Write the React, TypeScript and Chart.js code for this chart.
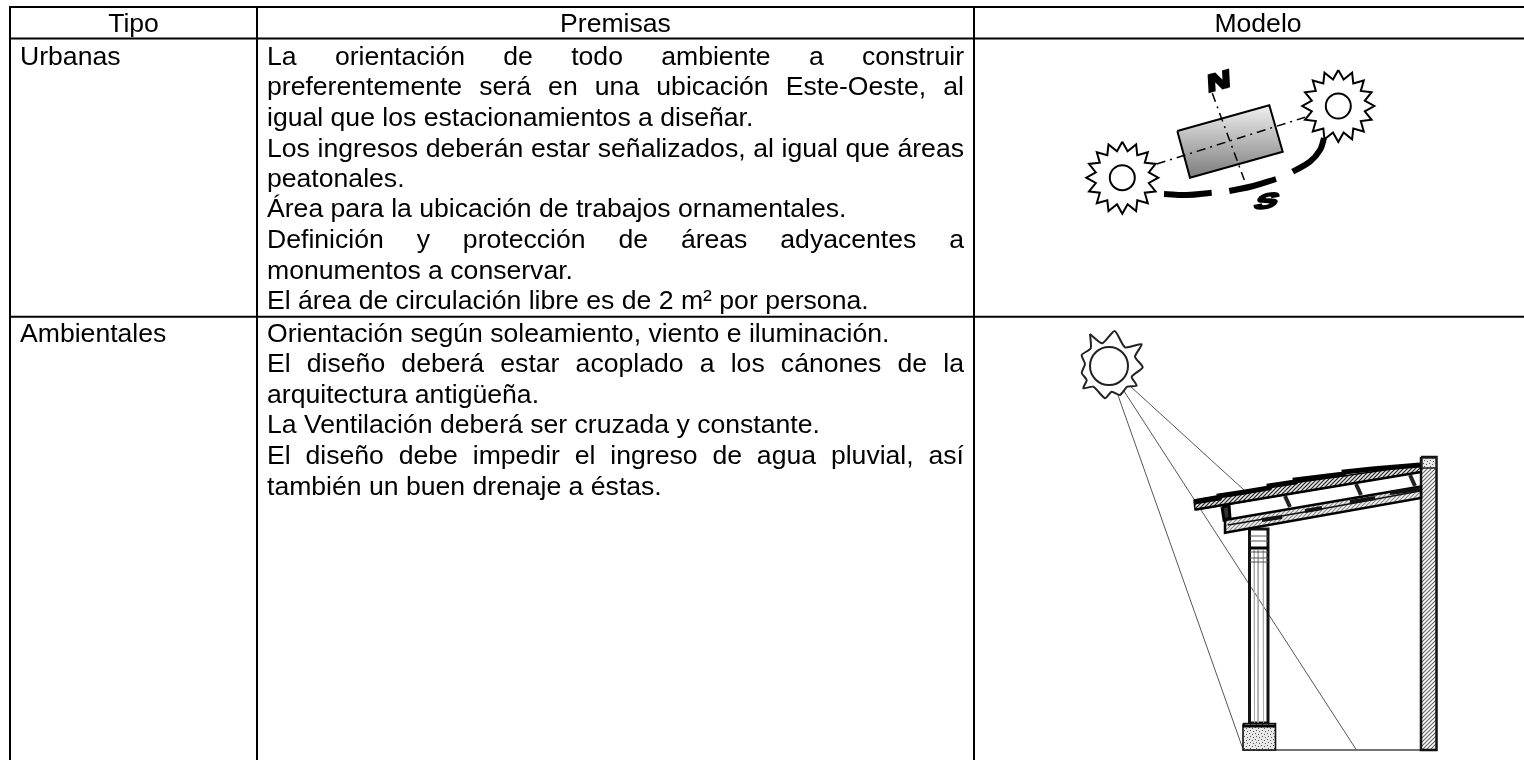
import React, { useEffect, useRef } from "react";
import { Chart, registerables } from "chart.js";

Chart.register(...registerables);

type P = [number, number];

const headerLabels = ["Tipo", "Premisas", "Modelo"];
const typeLabels = ["Urbanas", "Ambientales"];

// text, justified?
const urbanLines: [string, boolean][] = [
  ["La orientación de todo ambiente a construir", true],
  ["preferentemente será en una ubicación Este-Oeste, al", true],
  ["igual que los estacionamientos a diseñar.", false],
  ["Los ingresos deberán estar señalizados, al igual que áreas", true],
  ["peatonales.", false],
  ["Área para la ubicación de trabajos ornamentales.", false],
  ["Definición y protección de áreas adyacentes a", true],
  ["monumentos a conservar.", false],
  ["El área de circulación libre es de 2 m² por persona.", false],
];
const ambientLines: [string, boolean][] = [
  ["Orientación según soleamiento, viento e iluminación.", false],
  ["El diseño deberá estar acoplado a los cánones de la", true],
  ["arquitectura antigüeña.", false],
  ["La Ventilación deberá ser cruzada y constante.", false],
  ["El diseño debe impedir el ingreso de agua pluvial, así", true],
  ["también un buen drenaje a éstas.", false],
];
const urbanBaselines = [65, 95, 126, 157, 187, 217, 248, 279, 309];
const ambientBaselines = [341.5, 372, 402.5, 433, 464, 494.5];

const gridLines: P[][] = [
  [[9, 7], [1524, 7]],
  [[9, 38.5], [1524, 38.5]],
  [[9, 316.7], [1524, 316.7]],
  [[10, 6], [10, 760]],
  [[257, 6], [257, 760]],
  [[974, 6], [974, 760]],
];

const compassBox: P[] = [[1177.3, 131], [1269.3, 105.3], [1282.7, 151.7], [1190, 177.7], [1177.3, 131]];
const axisEW: P[] = [[1156.7, 164], [1305, 117.3]];
const axisNS: P[] = [[1212.3, 93.3], [1244.3, 180]];
const arcA: P[] = [[1164, 194], [1186.7, 195], [1211.7, 192.7]];
const arcB: P[] = [[1229.3, 191], [1253.3, 186], [1276, 179]];
const arcC: P[] = [[1292.7, 171.7], [1310, 161.7], [1320, 150], [1324, 138.3]];
const starOffsets: P[] = [
  [0, -36], [5.3, -26.5], [13.8, -33.3], [15, -22.5], [25.5, -25.5], [22.5, -15], [33.3, -13.8], [26.5, -5.3],
  [36, 0], [26.5, 5.3], [33.3, 13.8], [22.5, 15], [25.5, 25.5], [15, 22.5], [13.8, 33.3], [5.3, 26.5],
  [0, 36], [-5.3, 26.5], [-13.8, 33.3], [-15, 22.5], [-25.5, 25.5], [-22.5, 15], [-33.3, 13.8], [-26.5, 5.3],
  [-36, 0], [-26.5, -5.3], [-33.3, -13.8], [-22.5, -15], [-25.5, -25.5], [-15, -22.5], [-13.8, -33.3], [-5.3, -26.5],
  [0, -36],
];
const sunCentres: P[] = [[1122.3, 177.7], [1338.3, 106]];
const bigSunCentre: P = [1109, 366];
const bigSunOutline: P[] = [
  [1090, 334], [1102.3, 343.3], [1114.7, 331], [1125, 347.3], [1141.7, 344.3], [1135, 356.7], [1142.7, 367.3],
  [1131.7, 376.7], [1136.7, 385.7], [1127.3, 386.7], [1120, 395], [1111.7, 391.7], [1105, 398.3], [1093.3, 386.7],
  [1083.3, 388.3], [1086.7, 380], [1081.7, 373], [1085, 364], [1081.7, 355], [1090.7, 348.3], [1090, 334],
];
const rays: P[][] = [
  [[1130, 386], [1244, 490]],
  [[1123.3, 390], [1356, 749.3]],
  [[1117.3, 393.3], [1242.7, 748.3]],
];
const ground: P[] = [[1242.7, 750], [1422, 750]];
const wall: P[] = [[1421, 457], [1436.5, 457], [1436.5, 750], [1421, 750], [1421, 457]];
const wallCap: P[] = [[1422, 458], [1436, 458], [1436, 468], [1422, 468], [1422, 458]];
const postBody: P[] = [[1249.5, 529], [1268, 529], [1268, 723], [1249.5, 723], [1249.5, 529]];
const postGrain: P[][] = [
  [[1254, 550], [1254.5, 723]],
  [[1258.5, 550], [1258, 723]],
  [[1263, 550], [1263.5, 723]],
];
const postBands: P[][] = [
  [[1250, 536], [1268, 536]],
  [[1250, 541], [1268, 541]],
  [[1250, 552], [1268, 552]],
  [[1250, 558], [1268, 558]],
  [[1250, 562], [1268, 562]],
];
const postDark: P[] = [[1250, 548], [1268, 548]];
const footing: P[] = [[1243, 723.5], [1275.5, 723.5], [1275.5, 750], [1243, 750], [1243, 723.5]];
const footingCap: P[] = [[1243, 726], [1275.5, 726]];
const roofBoard: P[] = [[1194, 500], [1245, 491], [1300, 482], [1350, 475], [1420, 465], [1421, 472], [1195, 510], [1194, 500]];
const roofTop: P[] = [
  [1194, 502], [1219, 498], [1219, 496], [1245, 492], [1269, 488], [1269, 486], [1295, 482], [1295, 480], [1344, 474], [1344, 472], [1372, 469], [1420, 465],
];
const beam: P[] = [[1225, 520], [1421, 486.5], [1421, 498], [1225, 532.7], [1225, 520]];
const beamStreaks: P[][] = [
  [[1228, 525], [1270, 518], [1310, 511], [1360, 502], [1420, 491]],
  [[1262, 520], [1282, 517]],
  [[1305, 511], [1322, 508]],
  [[1350, 502], [1375, 498]],
  [[1390, 493], [1420, 489]],
];
const roofUnder: P[] = [[1196, 509.5], [1421, 472]];
const struts: P[][] = [
  [[1285, 496], [1290, 507]],
  [[1356, 484], [1361, 495]],
  [[1410, 475], [1415, 486]],
];
const cleat: P[] = [[1222, 507], [1229, 505], [1230, 518], [1224, 520], [1222, 507]];

const toXY = (pts: P[]) => pts.map(([x, y]) => ({ x, y }));

function hatch(ctx: CanvasRenderingContext2D, bg: string, fg: string) {
  const c = document.createElement("canvas");
  c.width = 4;
  c.height = 4;
  const g = c.getContext("2d")!;
  g.fillStyle = bg;
  g.fillRect(0, 0, 4, 4);
  g.strokeStyle = fg;
  g.lineWidth = 1.2;
  g.beginPath();
  g.moveTo(-1, 1);
  g.lineTo(1, -1);
  g.moveTo(0, 4);
  g.lineTo(4, 0);
  g.moveTo(3, 5);
  g.lineTo(5, 3);
  g.stroke();
  return ctx.createPattern(c, "repeat")!;
}

function speckle(ctx: CanvasRenderingContext2D) {
  const c = document.createElement("canvas");
  c.width = 6;
  c.height = 6;
  const g = c.getContext("2d")!;
  g.fillStyle = "#e8e8e8";
  g.fillRect(0, 0, 6, 6);
  g.fillStyle = "#555";
  g.fillRect(1, 1, 1, 1);
  g.fillRect(4, 2, 1, 1);
  g.fillRect(2, 4, 1, 1);
  g.fillRect(5, 5, 1, 1);
  return ctx.createPattern(c, "repeat")!;
}

const FONT = '"Liberation Sans", Arial, sans-serif';
const SIZE = 26.6;

const textPlugin = {
  id: "tableText",
  afterDatasetsDraw(chart: any) {
    const { ctx, scales } = chart;
    const X = (v: number) => scales.x.getPixelForValue(v);
    const Y = (v: number) => scales.y.getPixelForValue(v);
    ctx.save();
    ctx.fillStyle = "#000";
    ctx.textBaseline = "alphabetic";
    ctx.font = `${SIZE}px ${FONT}`;
    ctx.textAlign = "center";
    const centres = [133.5, 615.5, 1258];
    headerLabels.forEach((t, i) => ctx.fillText(t, X(centres[i]), Y(32)));
    ctx.textAlign = "left";
    ctx.fillText(typeLabels[0], X(20), Y(urbanBaselines[0]));
    ctx.fillText(typeLabels[1], X(20), Y(ambientBaselines[0]));
    const L = 267;
    const R = 964;
    const drawLine = (t: string, justified: boolean, b: number) => {
      if (!justified) {
        ctx.fillText(t, X(L), Y(b));
        return;
      }
      const words = t.split(" ");
      const total = words.reduce((s, w) => s + ctx.measureText(w).width, 0);
      const gap = (X(R) - X(L) - total) / (words.length - 1);
      let x = X(L);
      words.forEach((w) => {
        ctx.fillText(w, x, Y(b));
        x += ctx.measureText(w).width + gap;
      });
    };
    urbanLines.forEach(([t, j], i) => drawLine(t, j, urbanBaselines[i]));
    ambientLines.forEach(([t, j], i) => drawLine(t, j, ambientBaselines[i]));

    // compass letters
    ctx.textAlign = "center";
    ctx.textBaseline = "middle";
    ctx.lineWidth = 2.5;
    ctx.strokeStyle = "#000";
    ctx.save();
    ctx.translate(X(1219), Y(81.5));
    ctx.transform(1.25, -0.35, 0.05, 0.95, 0, 0);
    ctx.font = `bold 25px ${FONT}`;
    ctx.strokeText("N", 0, 1);
    ctx.fillText("N", 0, 1);
    ctx.restore();
    ctx.save();
    ctx.translate(X(1266.7), Y(201.5));
    ctx.transform(1.35, -0.15, -0.35, 0.85, 0, 0);
    ctx.font = `bold 25px ${FONT}`;
    ctx.strokeText("S", 0, 1);
    ctx.fillText("S", 0, 1);
    ctx.restore();
    ctx.restore();
  },
};

const line = (pts: P[], color: string, width: number, extra: object = {}) => ({
  data: toXY(pts),
  showLine: true,
  borderColor: color,
  borderWidth: width,
  pointRadius: 0,
  fill: false,
  tension: 0,
  ...extra,
});

export default function App() {
  const ref = useRef<HTMLCanvasElement>(null);
  useEffect(() => {
    const canvas = ref.current!;
    const ctx = canvas.getContext("2d")!;
    const shade = ctx.createLinearGradient(0, 105, 0, 178);
    shade.addColorStop(0, "#f0f0f0");
    shade.addColorStop(1, "#7c7c7c");
    const datasets: any[] = [
      ...gridLines.map((g) => line(g, "#000", 2)),
      line(compassBox, "#000", 2, { fill: "shape", backgroundColor: shade }),
      line(axisEW, "#000", 1.5, { borderDash: [9, 5, 2, 5] }),
      line(axisNS, "#000", 1.5, { borderDash: [9, 5, 2, 5] }),
      line(arcA, "#000", 6, { tension: 0.4 }),
      line(arcB, "#000", 6, { tension: 0.4 }),
      line(arcC, "#000", 6, { tension: 0.4 }),
      ...sunCentres.map((c) =>
        line(starOffsets.map(([dx, dy]) => [c[0] + dx, c[1] + dy] as P), "#000", 2, {
          fill: "shape",
          backgroundColor: "#fff",
        })
      ),
      ...sunCentres.map((c) => ({
        data: toXY([c]),
        pointRadius: 12.5,
        pointBorderWidth: 2,
        pointBorderColor: "#000",
        pointBackgroundColor: "#fff",
      })),
      ...rays.map((r) => line(r, "#555", 1)),
      line(bigSunOutline, "#222", 2, { tension: 0.2, fill: "shape", backgroundColor: "#fff" }),
      {
        data: toXY([bigSunCentre]),
        pointRadius: 19,
        pointBorderWidth: 2,
        pointBorderColor: "#222",
        pointBackgroundColor: "#fff",
      },
      line(ground, "#444", 1.5),
      line(wall, "#111", 2.5, { fill: "shape", backgroundColor: hatch(ctx, "#ffffff", "#666") }),
      line(wallCap, "#222", 1.5, { fill: "shape", backgroundColor: speckle(ctx) }),
      line(postBody, "#111", 3),
      ...postGrain.map((g) => line(g, "#aaa", 1)),
      ...postBands.map((g) => line(g, "#555", 1)),
      line(postDark, "#000", 3),
      line(footing, "#111", 1.6, { fill: "shape", backgroundColor: speckle(ctx) }),
      line(footingCap, "#000", 3),
      line(roofBoard, "#000", 1.5, { fill: "shape", backgroundColor: hatch(ctx, "#e6e6e6", "#222") }),
      line(roofTop, "#000", 5),
      line(roofUnder, "#000", 2.5),
      line(beam, "#000", 2.5, { fill: "shape", backgroundColor: hatch(ctx, "#f2f2f2", "#888") }),
      ...beamStreaks.map((s, i) => line(s, "#111", i === 0 ? 1.5 : 4)),
      ...struts.map((s) => line(s, "#222", 4)),
      line(cleat, "#000", 3, { fill: "shape", backgroundColor: "#333" }),
    ];
    datasets.reverse(); // Chart.js paints the first dataset last
    const chart = new Chart(canvas, {
      type: "scatter",
      data: { datasets },
      options: {
        responsive: false,
        animation: false,
        layout: { padding: 0, autoPadding: false },
        plugins: { legend: { display: false }, tooltip: { enabled: false }, title: { display: false } },
        scales: {
          x: { type: "linear", display: false, min: 0, max: 1524 },
          y: { type: "linear", display: false, min: 0, max: 760, reverse: true },
        },
      },
      plugins: [textPlugin],
    } as any);
    return () => chart.destroy();
  }, []);
  return (
    <canvas
      ref={ref}
      width={1524}
      height={760}
      style={{ position: "absolute", left: 0, top: 0, width: 1524, height: 760, background: "#fff" }}
    />
  );
}
